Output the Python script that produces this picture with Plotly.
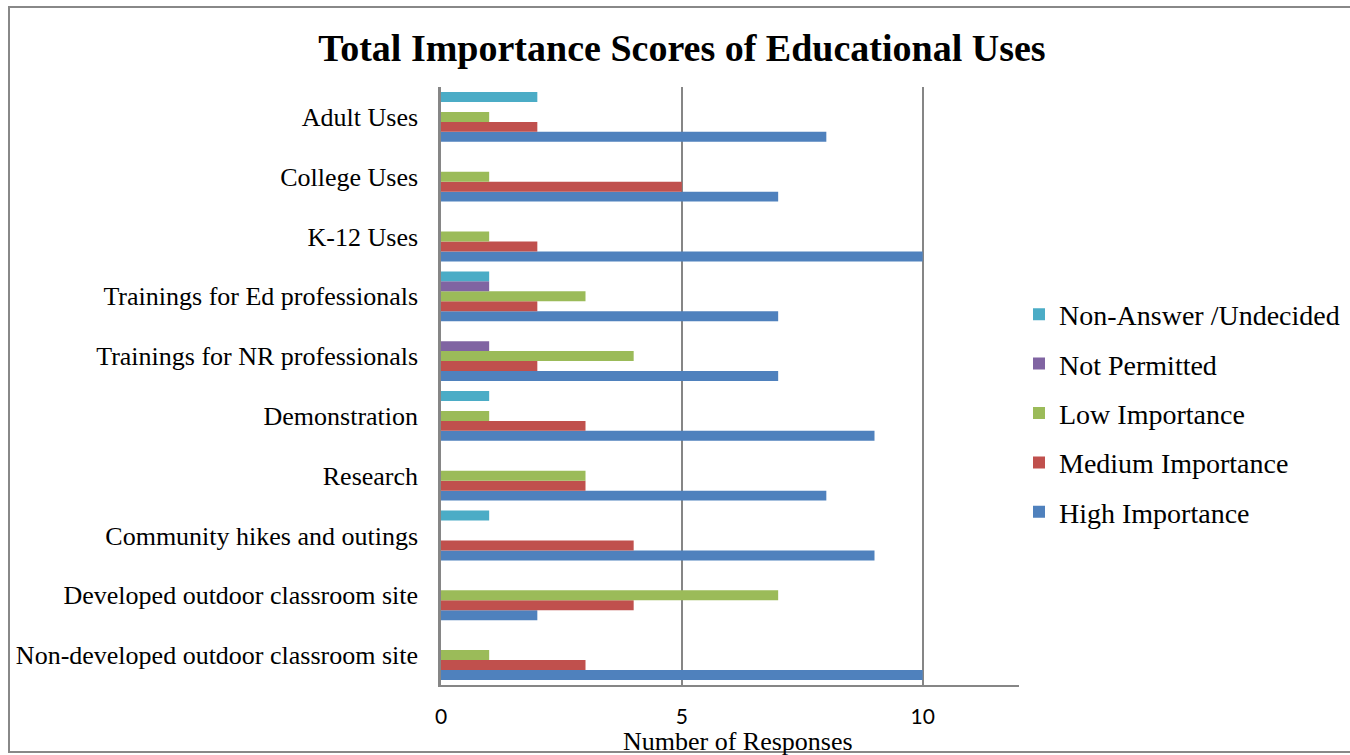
import plotly.graph_objects as go

categories = [
    "Non-developed outdoor classroom site",
    "Developed outdoor classroom site",
    "Community hikes and outings",
    "Research",
    "Demonstration",
    "Trainings for NR professionals",
    "Trainings for Ed professionals",
    "K-12 Uses",
    "College Uses",
    "Adult Uses",
]
high = [10, 2, 9, 8, 9, 7, 7, 10, 7, 8]
medium = [3, 4, 4, 3, 3, 2, 2, 2, 5, 2]
low = [1, 7, 0, 3, 1, 4, 3, 1, 1, 1]
not_permitted = [0, 0, 0, 0, 0, 1, 1, 0, 0, 0]
non_answer = [0, 0, 1, 0, 1, 0, 1, 0, 0, 2]

series = [
    ("High Importance", high, "#4F81BD"),
    ("Medium Importance", medium, "#C0504D"),
    ("Low Importance", low, "#9BBB59"),
    ("Not Permitted", not_permitted, "#8064A2"),
    ("Non-Answer /Undecided", non_answer, "#4BACC6"),
]

serif = "Liberation Serif"
fig = go.Figure()
n = len(series)
for i, (name, vals, col) in enumerate(series):
    fig.add_trace(go.Bar(
        y=categories, x=vals, name=name, orientation="h", legendgroup=name,
        legendrank=1000 - i,
        marker=dict(color=col, line=dict(width=0)),
    ))

W, H = 1350, 755
L, R, T, B = 441, 1019, 87, 685
pw, ph = R - L, B - T
def px_x(v):
    return (v - L) / pw
def px_y(v):
    return (B - v) / ph

fig.update_layout(
    width=W, height=H,
    margin=dict(l=L, r=W - R, t=T, b=H - B, autoexpand=False),
    paper_bgcolor="white", plot_bgcolor="white",
    barmode="group", bargap=0.167, bargroupgap=0,
    title=dict(text="<b>Total Importance Scores of Educational Uses</b>",
               x=682 / W, xanchor="center", y=1 - 48 / H, yanchor="middle",
               font=dict(family=serif, size=38, color="black")),
    legend=dict(traceorder="grouped", x=1.0, xanchor="left", y=px_y(413), yanchor="middle",
                font=dict(family=serif, size=28, color="black"),
                itemwidth=30, tracegroupgap=10, bgcolor="rgba(0,0,0,0)"),
    xaxis=dict(range=[0, 12], tickvals=[0, 5, 10], showgrid=True, automargin=False,
               gridcolor="#868686", gridwidth=1.5, zeroline=False,
               showline=True, linecolor="#868686", linewidth=1.5,
               ticks="", ticklabelstandoff=12,
               tickfont=dict(family="Lato", size=21, color="black")),
    yaxis=dict(showline=True, linecolor="#868686", linewidth=2.5, automargin=False,
               showgrid=False, ticks="", ticklabelstandoff=15,
               tickfont=dict(family=serif, size=26, color="black")),
)

fig.add_annotation(text="Number of Responses", xref="paper", yref="paper",
                   x=px_x(738), y=px_y(741), xanchor="center", yanchor="middle",
                   showarrow=False, font=dict(family=serif, size=26, color="black"))

# outer chart frame
fig.add_shape(type="rect", xref="paper", yref="paper",
              x0=px_x(9), x1=px_x(1360), y0=px_y(752), y1=px_y(7),
              line=dict(color="#888888", width=2), fillcolor="rgba(0,0,0,0)",
              layer="above")

fig.write_html("out.html")
